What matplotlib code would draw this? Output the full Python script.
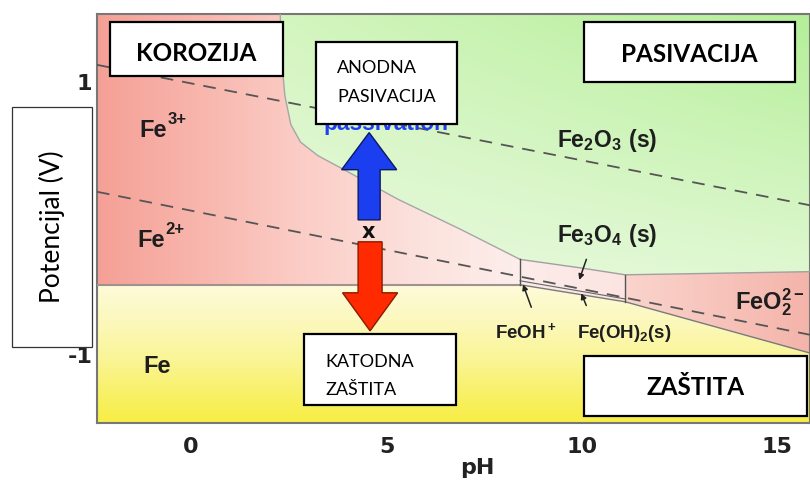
import numpy as np
import matplotlib
matplotlib.use("Agg")
import matplotlib.pyplot as plt
from matplotlib.patches import Polygon, Rectangle, FancyArrow

# pH / potential (V) values
ph_min, ph_max = -2.41, 15.84
e_min, e_max = -1.50, 1.50

curve_ph = [2.28, 2.32, 2.40, 2.55, 2.80, 3.25, 3.90, 4.60, 5.30, 6.90, 8.42]
curve_e = [1.50, 1.15, 0.90, 0.69, 0.56, 0.46, 0.36, 0.25, 0.14, -0.08, -0.30]
oxide_top_ph = [8.42, 9.96, 11.11, 15.84]
oxide_top_e = [-0.30, -0.362, -0.413, -0.39]
fe_line_e = -0.486
fe_bottom_ph = [8.42, 11.11, 15.84]
fe_bottom_e = [-0.486, -0.611, -0.987]
hydroxide_ph = [8.42, 11.11]
hydroxide_e = [-0.457, -0.590]
water_ph = [-2.41, 15.84]
water_upper_e = [1.127, 0.097]
water_lower_e = [0.196, -0.853]

x_ticks = [0, 5, 10, 15]
y_ticks = [-1, 0, 1]

W, H = 810, 482
plt.rcParams["axes.unicode_minus"] = False
plt.rcParams["mathtext.fontset"] = "custom"
plt.rcParams["mathtext.rm"] = "Liberation Sans"
plt.rcParams["mathtext.bf"] = "Liberation Sans:bold"

fig = plt.figure(figsize=(W / 100, H / 100), dpi=100)
ax = fig.add_axes([97 / W, 1 - 423 / H, 713 / W, 409 / H])
ax.set_xlim(ph_min, ph_max)
ax.set_ylim(e_min, e_max)

nx, ny = 400, 250
uu, vv = np.meshgrid(np.linspace(0, 1, nx), np.linspace(0, 1, ny))
px = 97 + uu * 713
py = 14 + vv * 409


def ramp(t, stops, colors):
    colors = np.array(colors, dtype=float) / 255
    return np.dstack([np.interp(t, stops, colors[:, k]) for k in range(3)])


def bilinear(tl, tr, bl, br, u, v):
    tl, tr, bl, br = [np.array(c, dtype=float) / 255 for c in (tl, tr, bl, br)]
    u = u[..., None]
    v = np.clip(v, 0, 1)[..., None]
    top = tl * (1 - u) + tr * u
    bot = bl * (1 - u) + br * u
    return top * (1 - v) + bot * v


red_img = ramp(px, [97, 200, 300, 420, 520, 810],
               [(245, 160, 150), (248, 182, 173), (251, 205, 198),
                (252, 226, 221), (253, 238, 235), (253, 240, 238)])
green_img = bilinear((222, 247, 204), (180, 239, 152), (238, 250, 230),
                     (224, 248, 210), uu, (py - 14) / 266)
yellow_img = ramp(py, [285, 320, 360, 400, 423],
                  [(254, 251, 218), (252, 248, 190), (250, 245, 150),
                   (248, 240, 95), (247, 238, 70)])
feo2_img = ramp(px, [625, 810], [(250, 212, 205), (244, 180, 170)])
magnetite_img = ramp(px, [520, 625], [(253, 236, 234), (252, 228, 226)])

ext = [ph_min, ph_max, e_min, e_max]

red_poly = [(ph_min, e_max)] + list(zip(curve_ph, curve_e)) + \
    [(fe_bottom_ph[0], fe_line_e), (ph_min, fe_line_e)]
magnetite_poly = list(zip(oxide_top_ph[:3], oxide_top_e[:3])) + \
    list(zip(fe_bottom_ph[:2], fe_bottom_e[:2]))[::-1]
feo2_poly = list(zip(oxide_top_ph[2:], oxide_top_e[2:])) + \
    list(zip(fe_bottom_ph[1:], fe_bottom_e[1:]))[::-1]
yellow_poly = [(ph_min, fe_line_e)] + list(zip(fe_bottom_ph, fe_bottom_e)) + \
    [(ph_max, e_min), (ph_min, e_min)]

# green fills the whole frame, the other fields are laid over it
ax.imshow(green_img, extent=ext, origin="upper", aspect="auto", zorder=1)
for img, poly in [(red_img, red_poly), (magnetite_img, magnetite_poly),
                  (feo2_img, feo2_poly), (yellow_img, yellow_poly)]:
    im = ax.imshow(img, extent=ext, origin="upper", aspect="auto", zorder=1)
    im.set_clip_path(Polygon(poly, closed=True, transform=ax.transData))

# field boundaries
ax.plot(curve_ph, curve_e, color="#a6a6a6", lw=1, zorder=3)
ax.plot(oxide_top_ph, oxide_top_e, color="#a0a0a0", lw=1, zorder=3)
ax.plot([ph_min, fe_bottom_ph[0]], [fe_line_e, fe_line_e], color="#a09290", lw=1.5, zorder=3)
ax.plot(fe_bottom_ph, fe_bottom_e, color="#7a7a7a", lw=1, zorder=3)
ax.plot(hydroxide_ph, hydroxide_e, color="#666666", lw=0.8, zorder=3)
ax.plot([oxide_top_ph[0]] * 2, [oxide_top_e[0], fe_bottom_e[0]], color="#555555", lw=1, zorder=3)
ax.plot([oxide_top_ph[2]] * 2, [oxide_top_e[2], fe_bottom_e[1]], color="#555555", lw=1, zorder=3)

# water stability lines
ax.plot(water_ph, water_upper_e, color="#555555", lw=1.3, dashes=(7, 5), zorder=4)
ax.plot(water_ph, water_lower_e, color="#555555", lw=1.3, dashes=(7, 5), zorder=4)

lab = dict(color="#1e1e1e", va="baseline", ha="left", zorder=5)
sup = dict(textcoords="offset points", fontsize=12, weight="bold",
           family="Liberation Sans", color="#1e1e1e", va="baseline", ha="left", zorder=5)
for x, y, charge in [(-1.33, 0.60, "3+"), (-1.38, -0.207, "2+")]:
    ax.text(x, y, "Fe", fontsize=17, weight="bold", family="Liberation Sans", **lab)
    ax.annotate(charge, xy=(x, y), xytext=(20.5, 9.5), **sup)
ax.text(-1.23, -1.134, "Fe", fontsize=17, weight="bold", family="Liberation Sans", **lab)
ax.text(9.37, 0.527, r"$\mathbf{Fe_2O_3\ (s)}$", fontsize=16.5, **lab)
ax.text(9.37, -0.17, r"$\mathbf{Fe_3O_4\ (s)}$", fontsize=16.5, **lab)
ax.text(13.92, -0.664, r"$\mathbf{FeO_2^{2-}}$", fontsize=17, **lab)
ax.text(7.78, -0.875, r"$\mathbf{FeOH^+}$", fontsize=13.5, **lab)
ax.text(9.88, -0.875, r"$\mathbf{Fe(OH)_2(s)}$", fontsize=13.5, **lab)

arr = dict(arrowstyle="-|>", color="#222222", lw=1.1, mutation_scale=8)
ax.annotate("", xy=(9.91, -0.47), xytext=(10.14, -0.28), arrowprops=arr, zorder=5)
ax.annotate("", xy=(8.47, -0.464), xytext=(8.73, -0.67), arrowprops=arr, zorder=5)
ax.annotate("", xy=(9.96, -0.53), xytext=(10.14, -0.657), arrowprops=arr, zorder=5)

ax.add_patch(FancyArrow(4.556, -0.01, 0, 0.64, width=0.563, head_width=1.41,
                        head_length=0.272, length_includes_head=True,
                        fc="#1a3ef0", ec="#0c1a5c", lw=1, zorder=6))
ax.add_patch(FancyArrow(4.58, -0.171, 0, -0.653, width=0.614, head_width=1.41,
                        head_length=0.279, length_includes_head=True,
                        fc="#ff2a00", ec="#8a1a00", lw=1, zorder=6))
ax.text(4.53, -0.097, "x", fontsize=15, weight="bold", family="DejaVu Sans",
        color="#111111", ha="center", va="center", zorder=6)

ax.set_xticks(x_ticks)
ax.set_yticks(y_ticks)
ax.tick_params(length=0, labelsize=16, labelcolor="#222222")
ax.tick_params(axis="x", pad=10)
ax.tick_params(axis="y", pad=3.5)
for t in ax.get_xticklabels() + ax.get_yticklabels():
    t.set_fontweight("bold")
    t.set_family("DejaVu Sans")
for s in ax.spines.values():
    s.set_color("#777777")
    s.set_linewidth(1.5)

fig.text(477 / W, 1 - 474 / H, "pH", fontsize=16, weight="bold", family="DejaVu Sans",
         color="#222222", ha="center", va="baseline")

# blue caption mostly hidden behind the box drawn over it
fig.text(385.5 / W, 1 - 130 / H, "passivation", color="#1f3ff5", fontsize=16.4,
         weight="bold", family="Liberation Sans", ha="center", va="baseline", zorder=4)


def box(x0, y0, x1, y1, lw=1.6, ec="black"):
    fig.add_artist(Rectangle((x0 / W, 1 - y1 / H), (x1 - x0) / W, (y1 - y0) / H,
                             transform=fig.transFigure, facecolor="white",
                             edgecolor=ec, lw=lw, zorder=5))


def label(x, y, s, **kw):
    fig.text(x / W, 1 - y / H, s, family="Lato", color="black", zorder=6, **kw)


box(110, 22, 283, 76)
label(196.5, 61, "KOROZIJA", fontsize=17.5, weight="bold", ha="center", va="baseline")
box(584, 22, 795, 82)
label(689.5, 62, "PASIVACIJA", fontsize=17.5, weight="bold", ha="center", va="baseline")
box(584, 356, 807, 416)
label(695.5, 395, "ZAŠTITA", fontsize=17.5, weight="bold", ha="center", va="baseline")
box(316, 42, 457, 124)
label(337, 73, "ANODNA", fontsize=13, ha="left", va="baseline")
label(337, 102, "PASIVACIJA", fontsize=13, ha="left", va="baseline")
box(304, 334, 456, 405)
label(325, 367, "KATODNA", fontsize=13, ha="left", va="baseline")
label(325, 395, "ZAŠTITA", fontsize=13, ha="left", va="baseline")
box(12, 107, 92, 347, lw=0.9, ec="#333333")
label(52, 227, "Potencijal (V)", fontsize=19, rotation=90, ha="center", va="center")

fig.savefig("out.png", dpi=100)
